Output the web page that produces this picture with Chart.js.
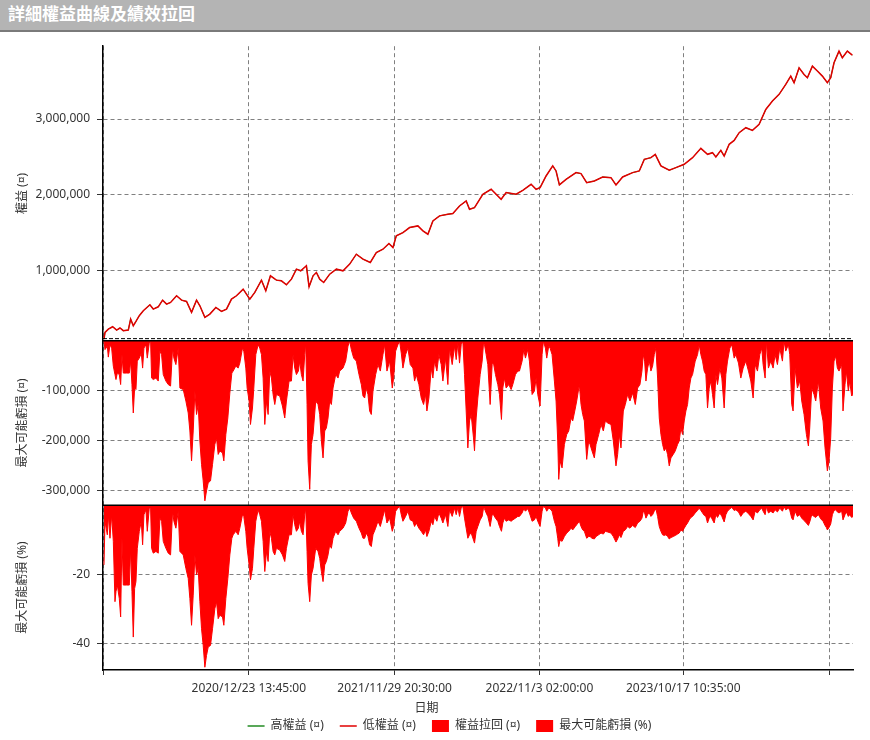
<!DOCTYPE html>
<html>
<head>
<meta charset="utf-8">
<script src="https://cdn.jsdelivr.net/npm/chart.js@4.4.0/dist/chart.umd.min.js"></script>
<style>
  body { margin: 0; background: #fff; }
  #header {
    height: 30px; line-height: 30px; padding-left: 8px;
    background: #b4b4b4; border-bottom: 2px solid #7a7a7a;
    color: #fff; font: bold 17px 'Noto Sans CJK TC', sans-serif;
  }
</style>
</head>
<body>
<div id="header">詳細權益曲線及績效拉回</div>
<canvas id="chart" width="870" height="708"></canvas>
<script>
// equity curve, sampled by trade number
const tradeNo = [0,3,13,26,38,48,58,73,80,88,96,106,118,138,148,163,176,188,200,218,233,248,263,278,288,303,318,336,353,368,383,398,418,438,453,473,486,500,518,533,548,563,578,591,608,616,628,638,648,660,678,698,718,738,758,778,800,818,838,856,868,878,898,918,943,958,973,988,1008,1033,1048,1068,1088,1098,1113,1138,1163,1193,1208,1238,1258,1283,1298,1310,1328,1348,1358,1368,1388,1418,1433,1450,1473,1498,1523,1538,1558,1588,1608,1623,1643,1656,1673,1698,1718,1743,1768,1793,1813,1828,1838,1853,1863,1878,1893,1908,1928,1948,1968,1988,2008,2028,2048,2063,2073,2088,2103,2113,2128,2143,2158,2173,2183,2193,2208,2218,2233,2248];
const equity = [101000,189000,232000,263000,219000,246000,211000,219000,364000,276000,333000,408000,474000,553000,496000,526000,614000,561000,583000,671000,614000,596000,452000,614000,539000,386000,430000,518000,465000,496000,627000,671000,759000,627000,715000,877000,737000,934000,877000,868000,816000,890000,1022000,1000000,1066000,789000,934000,978000,890000,846000,956000,1022000,1000000,1088000,1219000,1154000,1110000,1241000,1285000,1360000,1307000,1461000,1504000,1570000,1592000,1526000,1482000,1658000,1724000,1746000,1754000,1855000,1921000,1811000,1833000,2009000,2075000,1943000,2031000,2009000,2061000,2140000,2075000,2097000,2250000,2382000,2316000,2132000,2206000,2294000,2281000,2162000,2184000,2237000,2228000,2132000,2237000,2294000,2316000,2469000,2491000,2535000,2382000,2325000,2360000,2404000,2491000,2614000,2535000,2557000,2500000,2588000,2513000,2667000,2719000,2820000,2886000,2851000,2930000,3127000,3237000,3325000,3456000,3566000,3478000,3676000,3588000,3544000,3697000,3632000,3566000,3478000,3544000,3741000,3895000,3807000,3895000,3842000];

// drawdown, sampled by trade number
const ddTradeNo = [0,3,10,13,18,23,28,33,36,40,46,50,54,58,68,76,80,84,88,92,96,100,106,112,116,120,126,130,136,140,143,148,156,163,168,173,178,186,193,200,206,210,216,223,228,238,246,253,258,263,268,273,278,283,288,293,298,303,308,313,320,326,333,338,343,348,356,360,366,372,378,384,388,396,403,408,416,420,426,430,436,440,446,450,456,463,468,473,478,483,488,493,498,503,508,513,518,528,536,543,548,556,563,568,573,578,584,588,593,598,603,606,610,613,618,623,628,636,643,648,653,658,663,668,673,678,683,688,696,703,708,718,726,733,738,743,750,758,766,773,778,783,788,793,798,803,808,816,823,830,838,843,850,858,866,870,876,883,888,893,898,906,913,920,928,933,938,946,953,960,966,970,976,983,988,993,1000,1006,1013,1018,1026,1033,1038,1046,1053,1058,1063,1068,1073,1078,1083,1088,1093,
  1098,1103,1110,1113,1118,1123,1130,1136,1140,1143,1148,1153,1160,1166,1170,1176,1183,1188,1194,1198,1203,1208,1216,1223,1228,1236,1243,1248,1256,1261,1266,1273,1278,1286,1293,1298,1303,1310,1316,1320,1326,1330,1336,1340,1346,1353,1358,1363,1366,1370,1376,1383,1390,1396,1403,1408,1416,1420,1428,1433,1438,1443,1450,1456,1460,1466,1473,1478,1486,1493,1500,1506,1513,1523,1530,1538,1543,1548,1553,1560,1566,1573,1580,1588,1596,1603,1610,1616,1620,1624,1628,1633,1638,1643,1648,1653,1658,1663,1668,1673,1678,1683,1688,1693,1698,1703,1710,1716,1723,1728,1733,1738,1743,1748,1753,1758,1763,1768,1776,1783,1788,1793,1798,1803,1808,1813,1818,1823,1828,1833,1838,1843,1850,1856,1863,1868,1873,1880,1886,1893,1898,1906,1913,1920,1928,1936,1943,1950,1956,1963,1970,1976,1980,1986,1990,1996,2003,2010,2016,2023,2030,2038,2043,2048,2056,2060,2066,2070,2076,2083,2090,2096,2103,2110,2116,2120,2126,2133,2138,2146,2153,2160,2166,2170,2173,2178,2183,2188,2193,2198,2203,2208,2216,2220,2226,2230,2236,2240,2246,2250];
const ddAmount = [-1000,-18000,-11000,-33000,-8000,-15000,-51000,-68000,-78000,-65000,-68000,-88000,-28000,-65000,-65000,-65000,-41000,-88000,-145000,-95000,-98000,-41000,-35000,-25000,-55000,-15000,-8000,-35000,-5000,-1000,-75000,-78000,-75000,-81000,-21000,-28000,-68000,-81000,-88000,-91000,-15000,-35000,-48000,-15000,-95000,-98000,-121000,-145000,-181000,-241000,-181000,-101000,-148000,-128000,-201000,-248000,-281000,-321000,-301000,-285000,-281000,-248000,-208000,-195000,-228000,-221000,-225000,-241000,-188000,-155000,-105000,-65000,-61000,-51000,-55000,-45000,-15000,-21000,-55000,-95000,-121000,-168000,-135000,-95000,-28000,-8000,-15000,-28000,-75000,-168000,-121000,-148000,-61000,-75000,-108000,-128000,-108000,-111000,-131000,-155000,-121000,-81000,-81000,-28000,-55000,-68000,-61000,-41000,-68000,-81000,-28000,-5000,-128000,-241000,-298000,-208000,-188000,-121000,-128000,-148000,-201000,-235000,-181000,-175000,-155000,-121000,-128000,-95000,-68000,-75000,-61000,-55000,-41000,-11000,-1000,-18000,-35000,-41000,-68000,-88000,-111000,-115000,-95000,-108000,-141000,-148000,-101000,-68000,-48000,-61000,-28000,-8000,-61000,-41000,-95000,-75000,-21000,-8000,-1000,-25000,-55000,-28000,-15000,-48000,-55000,-81000,-68000,-88000,-115000,-128000,-108000,-141000,-115000,-55000,-75000,-41000,-61000,-28000,-48000,-81000,-35000,-88000,-15000,-48000,-11000,-38000,-5000,-45000,-8000,-1000,-68000,-141000,-215000,
  -161000,-148000,-195000,-221000,-155000,-115000,-68000,-41000,-5000,-8000,-28000,-48000,-128000,-48000,-45000,-68000,-88000,-108000,-158000,-95000,-75000,-95000,-88000,-98000,-88000,-68000,-61000,-61000,-41000,-18000,-35000,-18000,-41000,-108000,-101000,-75000,-108000,-131000,-28000,-1000,-15000,-35000,-11000,-15000,-28000,-81000,-121000,-201000,-278000,-241000,-255000,-208000,-188000,-181000,-155000,-161000,-135000,-121000,-88000,-128000,-148000,-161000,-238000,-201000,-208000,-221000,-235000,-208000,-188000,-168000,-181000,-161000,-165000,-168000,-201000,-251000,-228000,-188000,-215000,-141000,-128000,-108000,-121000,-105000,-128000,-95000,-88000,-61000,-28000,-41000,-81000,-55000,-41000,-61000,-51000,-28000,-15000,-75000,-155000,-188000,-208000,-221000,-215000,-228000,-251000,-235000,-228000,-221000,-208000,-201000,-175000,-188000,-161000,-141000,-128000,-95000,-75000,-68000,-41000,-28000,-8000,-28000,-41000,-61000,-68000,-135000,-95000,-81000,-108000,-135000,-68000,-88000,-55000,-75000,-135000,-68000,-41000,-15000,-8000,-35000,-28000,-45000,-75000,-55000,-41000,-61000,-81000,-115000,-48000,-61000,-28000,-15000,-48000,-75000,-1000,-55000,-41000,-55000,-28000,-48000,-15000,-41000,-1000,-21000,-8000,-28000,-128000,-141000,-55000,-95000,-81000,-121000,-148000,-188000,-211000,-175000,-95000,-108000,-121000,-81000,-135000,-161000,-215000,-241000,-261000,-241000,-195000,-95000,-41000,-31000,-55000,-61000,-48000,-141000,-88000,-61000,-101000,-81000,-111000,-108000];
const ddPercent = [-17.2,-4.6,-8.5,-2.7,-9.5,-2.7,-10.4,-27.8,-24.9,-23.0,-26.9,-32.2,-9.5,-23.0,-23.0,-23.0,-12.4,-24.9,-38.0,-24.0,-22.0,-12.4,-7.5,-4.6,-11.4,-2.7,-1.3,-7.5,-0.8,-0.8,-12.4,-13.8,-13.3,-13.8,-3.7,-4.6,-10.4,-12.4,-13.8,-14.3,-1.7,-4.6,-6.6,-1.7,-13.3,-14.3,-18.2,-21.1,-26.9,-34.6,-25.9,-14.3,-20.1,-18.2,-27.8,-35.6,-40.4,-46.7,-43.3,-40.9,-40.4,-35.6,-29.8,-27.8,-32.7,-31.7,-32.2,-34.6,-26.9,-21.1,-14.3,-9.5,-8.5,-7.5,-8.5,-6.6,-2.7,-3.2,-7.5,-12.4,-17.2,-21.5,-18.2,-12.4,-4.6,-1.3,-2.7,-4.6,-10.4,-19.1,-13.3,-16.2,-7.5,-9.5,-13.3,-14.3,-12.4,-12.9,-14.3,-16.2,-12.4,-8.5,-8.5,-2.7,-5.6,-7.5,-6.6,-4.6,-7.5,-8.5,-2.7,-0.8,-13.3,-22.5,-27.8,-20.1,-18.2,-12.4,-13.3,-15.3,-19.1,-22.0,-17.2,-16.2,-14.3,-11.4,-12.4,-9.5,-7.5,-8.5,-7.5,-6.6,-5.1,-1.7,-0.8,-2.2,-3.7,-4.6,-6.6,-8.0,-9.5,-9.5,-8.0,-9.0,-11.4,-11.9,-8.5,-6.6,-4.6,-6.1,-3.2,-1.3,-5.1,-3.7,-7.5,-6.1,-1.7,-0.8,-0.3,-2.7,-4.6,-3.2,-1.7,-4.2,-4.6,-6.1,-5.1,-6.6,-7.5,-8.5,-7.1,-9.0,-7.5,-4.6,-5.6,-3.2,-4.6,-2.2,-3.7,-5.1,-2.7,-6.1,-1.3,-3.2,-0.8,-2.7,-0.6,-3.2,-0.8,-0.3,-3.7,-6.6,-9.5,
  -8.5,-8.0,-10.0,-10.9,-7.5,-6.1,-4.2,-3.2,-0.8,-1.0,-2.2,-3.2,-6.1,-2.7,-2.7,-3.7,-4.6,-6.1,-7.5,-5.1,-3.7,-4.6,-4.2,-4.6,-4.2,-3.7,-3.2,-3.2,-2.2,-1.0,-1.7,-1.0,-2.2,-4.6,-4.2,-3.2,-4.6,-6.1,-1.7,-0.3,-0.8,-1.7,-0.8,-1.0,-1.7,-4.6,-6.1,-9.5,-11.9,-10.0,-10.4,-9.0,-8.0,-7.5,-6.6,-7.1,-6.1,-5.6,-4.6,-6.1,-7.1,-7.5,-9.5,-9.0,-9.0,-9.5,-9.7,-9.0,-8.5,-8.0,-8.3,-7.5,-7.7,-8.0,-9.0,-10.6,-9.7,-8.5,-9.3,-7.5,-7.1,-6.1,-6.6,-5.8,-6.4,-5.1,-4.6,-3.7,-1.7,-2.2,-3.7,-2.7,-2.2,-3.2,-2.7,-1.7,-1.0,-3.2,-6.1,-7.5,-8.5,-8.7,-8.5,-9.0,-9.7,-9.3,-9.0,-8.7,-8.3,-8.0,-7.1,-7.5,-6.6,-5.8,-5.1,-4.2,-3.5,-3.2,-2.2,-1.5,-0.8,-1.5,-2.2,-2.9,-3.2,-5.1,-3.7,-3.2,-4.2,-5.1,-2.7,-3.5,-2.2,-3.2,-4.8,-2.7,-1.7,-1.0,-0.6,-1.5,-1.3,-1.9,-3.2,-2.2,-1.7,-2.4,-3.2,-4.2,-1.7,-2.2,-1.3,-0.8,-1.7,-2.7,-0.4,-2.2,-1.7,-2.2,-1.3,-1.9,-0.8,-1.7,-0.4,-1.3,-0.8,-1.4,-3.7,-4.2,-1.7,-3.2,-2.7,-3.7,-4.4,-5.1,-5.8,-4.8,-2.7,-3.2,-3.5,-2.7,-3.9,-4.6,-5.8,-6.4,-7.1,-6.4,-5.4,-2.7,-1.5,-1.3,-1.9,-2.2,-1.7,-4.2,-2.7,-1.9,-3.2,-2.7,-3.5,-3.2];

// axis ticks
const xTickPos = [0, 435, 873, 1308, 1740, 2178];
const xTickLabels = ['', '2020/12/23 13:45:00', '2021/11/29 20:30:00', '2022/11/3 02:00:00', '2023/10/17 10:35:00', ''];
const equityTicks = [1000000, 2000000, 3000000];
const ddTicks = [-100000, -200000, -300000];
const pctTicks = [-20, -40];

Chart.defaults.font.family = "'Noto Sans', 'Noto Sans CJK TC', sans-serif";
Chart.defaults.font.size = 12;
Chart.defaults.color = '#333';

function points(xs, ys) {
  return xs.map(function (x, i) { return {x: x, y: ys[i]}; });
}

function panelAxis(weight, stackWeight, min, max, tickList, title) {
  return {
    type: 'linear',
    position: 'left',
    stack: 'panels',
    stackWeight: stackWeight,
    weight: weight,
    min: min,
    max: max,
    afterBuildTicks: function (scale) {
      scale.ticks = tickList.map(function (v) { return {value: v}; });
    },
    afterFit: function (scale) { scale.width = 103; },
    ticks: {
      padding: 7,
      color: '#333',
      callback: function (v) { return v.toLocaleString('en-US'); }
    },
    grid: { color: '#808080', tickColor: '#333', tickLength: 6, tickBorderDash: [] },
    border: { color: '#000', width: 1.5, dash: [4, 3] },
    title: { display: true, text: title, color: '#333', font: {size: 12}, padding: {top: 15, bottom: 0} }
  };
}

// separator lines between the three panels
const panelLines = {
  id: 'panelLines',
  afterDatasetsDraw: function (chart) {
    const c = chart.ctx, area = chart.chartArea, s = chart.scales;
    c.save();
    c.strokeStyle = '#000';
    c.lineWidth = 1;
    c.setLineDash([4, 2]);
    c.beginPath();
    c.moveTo(area.left, s.y.bottom - 2);
    c.lineTo(area.right, s.y.bottom - 2);
    c.stroke();
    c.setLineDash([]);
    c.lineWidth = 1.5;
    [s.yDraw.top, s.yPct.top].forEach(function (y) {
      c.beginPath();
      c.moveTo(area.left, y);
      c.lineTo(area.right, y);
      c.stroke();
    });
    c.restore();
  }
};

const legendShift = {
  id: 'legendShift',
  afterLayout: function (chart) {
    chart.legend.left += 23;
    chart.legend.right += 23;
    chart.legend.top += 2;
    chart.legend.bottom += 2;
  }
};

new Chart(document.getElementById('chart'), {
  type: 'line',
  data: {
    datasets: [
      {
        label: '高權益 (¤)',
        data: points(tradeNo, equity),
        yAxisID: 'y',
        borderColor: '#228b22',
        borderWidth: 1,
        pointRadius: 0,
        fill: false,
        order: 2
      },
      {
        label: '低權益 (¤)',
        data: points(tradeNo, equity),
        yAxisID: 'y',
        borderColor: '#e00000',
        borderWidth: 1.5,
        pointRadius: 0,
        fill: false,
        order: 1
      },
      {
        label: '權益拉回 (¤)',
        data: points(ddTradeNo, ddAmount),
        yAxisID: 'yDraw',
        borderColor: '#ff0000',
        backgroundColor: '#ff0000',
        borderWidth: 1,
        pointRadius: 0,
        fill: 'origin',
        order: 3
      },
      {
        label: '最大可能虧損 (%)',
        data: points(ddTradeNo, ddPercent),
        yAxisID: 'yPct',
        borderColor: '#ff0000',
        backgroundColor: '#ff0000',
        borderWidth: 1,
        pointRadius: 0,
        fill: 'origin',
        order: 4
      }
    ]
  },
  options: {
    responsive: false,
    animation: false,
    layout: { padding: {top: 13, right: 17, left: 0, bottom: 0} },
    scales: {
      x: {
        type: 'linear',
        min: -3,
        max: 2250,
        afterBuildTicks: function (scale) {
          scale.ticks = xTickPos.map(function (v) { return {value: v}; });
        },
        afterFit: function (scale) { scale.height = 31.8; },
        ticks: {
          autoSkip: false,
          maxRotation: 0,
          padding: 6,
          color: '#333',
          callback: function (v, i) { return xTickLabels[i]; }
        },
        grid: { color: '#808080', tickColor: '#333', tickLength: 5, tickBorderDash: [] },
        border: { color: '#000', width: 1.5, dash: [4, 3] }
      },
      y: panelAxis(3, 295, 80000, 3960000, equityTicks, '權益 (¤)'),
      yDraw: panelAxis(2, 165, -330000, 0, ddTicks, '最大可能虧損 (¤)'),
      yPct: panelAxis(1, 165, -47.5, 0, pctTicks, '最大可能虧損 (%)')
    },
    plugins: {
      tooltip: { enabled: false },
      title: {
        display: true,
        text: '日期',
        position: 'bottom',
        weight: 500,
        color: '#333',
        font: {size: 12, weight: 'normal'},
        padding: {top: 0, bottom: -14.2}
      },
      legend: {
        position: 'bottom',
        weight: 1000,
        labels: {
          usePointStyle: true,
          pointStyleWidth: 17,
          boxHeight: 12,
          padding: 16,
          color: '#333',
          font: {size: 12},
          generateLabels: function (chart) {
            return chart.data.datasets.map(function (ds, i) {
              const isLine = !ds.fill;
              return {
                text: ds.label,
                datasetIndex: i,
                pointStyle: isLine ? 'line' : 'rect',
                strokeStyle: ds.borderColor,
                fillStyle: isLine ? ds.borderColor : ds.backgroundColor,
                lineWidth: isLine ? 1.5 : 0,
                fontColor: '#333',
                hidden: false
              };
            });
          }
        }
      }
    }
  },
  plugins: [panelLines, legendShift]
});
</script>
</body>
</html>
